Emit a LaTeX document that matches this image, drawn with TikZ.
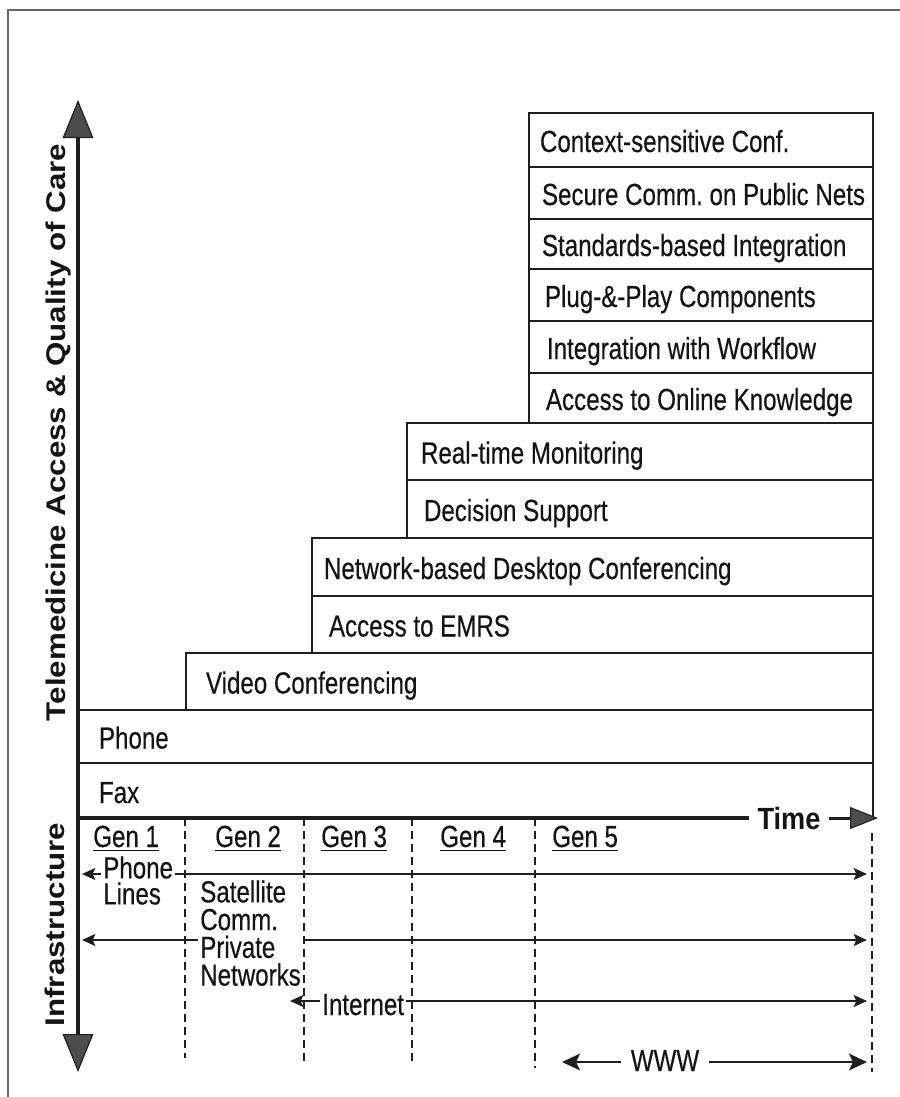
\documentclass[tikz,border=0pt]{standalone}
\usepackage{fontspec}
\setmainfont{Liberation Sans}[FakeStretch=0.79,FakeBold=0.35]
\newfontfamily\axisfont{Liberation Sans}[FakeStretch=1.16]
\newfontfamily\timefont{Liberation Sans}[FakeStretch=0.885]
\usetikzlibrary{arrows.meta}
\frenchspacing
\newcommand\msz{\fontsize{22.9pt}{27pt}\selectfont}
\newcommand\boxtxt[1]{\spaceskip=0pt\xspaceskip=0pt\relax\mbox{#1}}
\newsavebox\genbox
\newcommand\genul[1]{\sbox\genbox{#1}\rlap{\rule[-3pt]{\wd\genbox}{1.1pt}}\usebox\genbox}
\colorlet{ink}{black!88}
\begin{document}
\begin{tikzpicture}[x=0.75pt,y=-0.75pt,
  box/.style={draw=ink, line width=1.5pt, anchor=north west, align=left, inner ysep=0pt,
    text height=20.25pt, text depth=2.25pt, font=\msz, text=black!92},
  bw/.style 2 args={text width=#1, inner xsep=#2},
  lbl/.style={font=\msz, text=black!92, inner ysep=0pt},
  wlbl/.style={lbl, fill=white, inner xsep=1.5pt},
  axisln/.style={draw=ink, line width=2.6pt},
  infra/.style={draw=ink, line width=1.1pt, {Stealth[length=10pt,width=9pt,inset=2pt]}-{Stealth[length=10pt,width=9pt,inset=2pt]}},
  wwwarr/.style={draw=ink, line width=1.8pt, -{Stealth[length=13.5pt,width=12.5pt,inset=3pt]}},
  gendash/.style={draw=ink, line width=1.1pt, dash pattern=on 6pt off 3.8pt},
  axlabel/.style={font=\axisfont\bfseries\fontsize{20.25pt}{24pt}\selectfont, text=black!92, inner sep=0pt, rotate=90, anchor=base},
  frame/.style={draw=black!60, line width=1.1pt}
]
\useasboundingbox (0,0) rectangle (900,1097);
\draw[frame] (8,1097) -- (8,10) -- (900,10);

% ---- capability boxes
\node[box, bw={241.5pt}{8.25pt},  minimum height=40.5pt]  (ctx) at (528,112) {\boxtxt{Context-sensitive Conf.}};
\node[box, bw={238.5pt}{9.75pt},  minimum height=39pt]    (sec) at (528,166) {\boxtxt{Secure Comm. on Public Nets}};
\node[box, bw={238.5pt}{9.75pt},  minimum height=37.5pt]  (std) at (528,218) {\boxtxt{Standards-based Integration}};
\node[box, bw={234pt}{12pt},      minimum height=39pt]    (plg) at (528,268) {\boxtxt{Plug-\&-Play Components}};
\node[box, bw={231pt}{13.5pt},    minimum height=39pt]    (wfl) at (528,320) {\boxtxt{Integration with Workflow}};
\node[box, bw={232.5pt}{12.75pt}, minimum height=37.5pt]  (onl) at (528,372) {\boxtxt{Access to Online Knowledge}};
\node[box, bw={328.5pt}{10.5pt},  minimum height=42.75pt] (rtm) at (406,422) {\boxtxt{Real-time Monitoring}};
\node[box, bw={324pt}{12.75pt},   minimum height=43.5pt]  (dss) at (406,479) {\boxtxt{Decision Support}};
\node[box, bw={402.75pt}{9pt},    minimum height=43.5pt]  (net) at (311,537) {\boxtxt{Network-based Desktop Conferencing}};
\node[box, bw={395.25pt}{12.75pt},minimum height=42.75pt] (emr) at (311,595) {\boxtxt{Access to EMRS}};
\node[box, bw={485.25pt}{15pt},   minimum height=42.75pt] (vid) at (185,652) {\boxtxt{Video Conferencing}};
\node[box, bw={565.5pt}{15pt},    minimum height=39.75pt] (pho) at (78,709)  {\boxtxt{Phone}};
\node[box, bw={565.5pt}{15pt},    minimum height=42pt]    (fax) at (78,762)  {\boxtxt{Fax}};

% ---- axes
\coordinate (ytop) at (78,100);
\coordinate (ybot) at (78,1072);
\coordinate (origin) at (78,818);
\coordinate (tend) at (878,818);
\node[font=\timefont\bfseries\fontsize{23pt}{26pt}\selectfont, text=black!92, fill=white, inner xsep=6.4pt, inner ysep=0pt, anchor=base] (time) at (789,829) {Time};
\draw[axisln] (origin) -- (origin -| time.west);
\draw[draw=ink, line width=2.2pt, -{Triangle[length=21pt,width=16.5pt,line width=0.8pt,fill=black!70]}] (time.east |- origin) -- (tend);
\draw[draw=ink, line width=3.4pt,
  {Triangle[length=28.5pt,width=23pt,line width=0.9pt,fill=black!70]}-{Triangle[length=28.5pt,width=23pt,line width=0.9pt,fill=black!70]}]
  (ybot) -- (ytop);

\node[axlabel] (ylab) at (65,432.5) {Telemedicine Access \& Quality of Care};
\node[axlabel] (xlab) at (64,924.5) {Infrastructure};

% ---- generations
\node[lbl, inner xsep=0pt, anchor=base west] (g1) at (93,847)  {\genul{Gen 1}};
\node[lbl, inner xsep=0pt, anchor=base west] (g2) at (215,847) {\genul{Gen 2}};
\node[lbl, inner xsep=0pt, anchor=base west] (g3) at (321,847) {\genul{Gen 3}};
\node[lbl, inner xsep=0pt, anchor=base west] (g4) at (440,847) {\genul{Gen 4}};
\node[lbl, inner xsep=0pt, anchor=base west] (g5) at (552,847) {\genul{Gen 5}};

% ---- infrastructure arrows
\coordinate (pl-l) at (82,874);   \coordinate (pl-r) at (867,874);
\coordinate (sc-l) at (82,940);   \coordinate (sc-r) at (867,940);
\coordinate (in-l) at (290,1001); \coordinate (in-r) at (867,1001);
\coordinate (ww-l) at (562,1062); \coordinate (ww-r) at (867,1062);
\draw[infra] (pl-l) -- (pl-r);
\draw[infra] (sc-l) -- (sc-r);
\draw[infra] (in-l) -- (in-r);

\node[wlbl, align=left, font=\fontsize{22.9pt}{19.5pt}\selectfont, anchor=north west] (plines) at (101,856) {Phone\\Lines};
\node[wlbl, align=left, font=\fontsize{22.9pt}{20.8pt}\selectfont, anchor=north west] (sat) at (198,880) {Satellite\\Comm.\\Private\\Networks};
\node[wlbl, anchor=base west] (inet) at (320,1015) {Internet};

\node[lbl, inner xsep=7.5pt, anchor=base] (www) at (665,1071) {WWW};
\draw[wwwarr] (www.west |- ww-l) -- (ww-l);
\draw[wwwarr] (www.east |- ww-l) -- (ww-r);

% ---- generation separators
\coordinate (d1t) at (185,818);  \coordinate (d1b) at (185,1058);
\coordinate (d2t) at (304,818);  \coordinate (d2b) at (304,1062);
\coordinate (d3t) at (412,818);  \coordinate (d3b) at (412,1062);
\coordinate (d4t) at (535,818);  \coordinate (d4b) at (535,1068);
\coordinate (d5t) at (872,833);  \coordinate (d5b) at (872,1072);
\draw[gendash] (d1t) -- (d1b);
\draw[gendash] (d2t) -- (d2b);
\draw[gendash] (d3t) -- (d3b);
\draw[gendash] (d4t) -- (d4b);
\draw[gendash] (d5t) -- (d5b);
\end{tikzpicture}
\end{document}
